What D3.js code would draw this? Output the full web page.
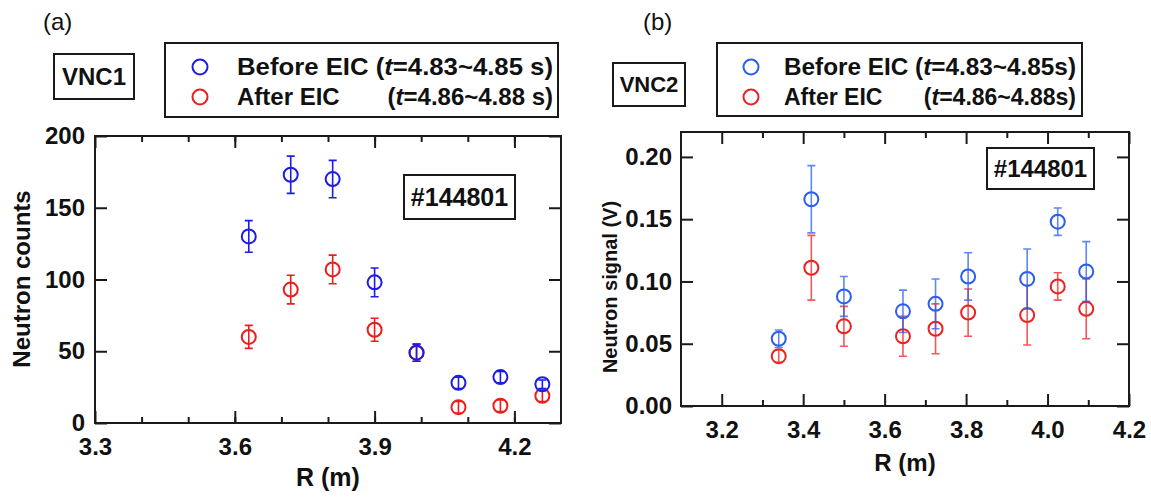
<!DOCTYPE html>
<html>
<head>
<meta charset="utf-8">
<script src="https://cdn.jsdelivr.net/npm/d3@7"></script>
<style>
  body { margin: 0; background: #fff; }
  text { font-family: "Liberation Sans", Arial, sans-serif; fill: #111; }
</style>
</head>
<body>
<div id="vis"></div>
<script>
// (a) VNC1 data
var rA = [3.63, 3.72, 3.81, 3.90, 3.99, 4.08, 4.17, 4.26];
var beforeA = [130, 173, 170, 98, 49, 28, 32, 27];
var beforeErrA = [11, 13, 13, 10, 6, 4, 4, 3];
var afterA = [60, 93, 107, 65, 49, 11, 12, 19];
var afterErrA = [8, 10, 10, 8, 6, 4, 4, 4];
var xTicksA = [3.3, 3.6, 3.9, 4.2];
var yTicksA = [0, 50, 100, 150, 200];

// (b) VNC2 data
var rB = [3.34, 3.42, 3.50, 3.645, 3.725, 3.805, 3.95, 4.025, 4.095];
var beforeB = [0.054, 0.166, 0.088, 0.076, 0.082, 0.104, 0.102, 0.148, 0.108];
var beforeErrB = [0.007, 0.027, 0.016, 0.017, 0.020, 0.019, 0.024, 0.011, 0.024];
var afterB = [0.040, 0.111, 0.064, 0.056, 0.062, 0.075, 0.073, 0.096, 0.078];
var afterErrB = [0.005, 0.026, 0.016, 0.016, 0.020, 0.019, 0.024, 0.011, 0.024];
var xTicksB = [3.2, 3.4, 3.6, 3.8, 4.0, 4.2];
var yTicksB = [0, 0.05, 0.10, 0.15, 0.20];

function rows(r, v, e) {
  return r.map(function(d, i) { return {r: d, v: v[i], e: e[i]}; });
}

function series(svg, data, xScale, yScale, color, barOpacity)
{
  var g = svg.append("g");
  g.selectAll(".bar")
    .data(data)
    .enter()
    .append("path")
      .attr("d", function(d) {
        var x = xScale(d.r), y0 = yScale(d.v - d.e), y1 = yScale(d.v + d.e);
        return "M" + x + "," + y0 + "V" + y1 +
               "M" + (x - 4) + "," + y0 + "H" + (x + 4) +
               "M" + (x - 4) + "," + y1 + "H" + (x + 4);
      })
      .style("fill", "none")
      .style("stroke", color)
      .style("stroke-opacity", barOpacity)
      .style("stroke-width", "1.6");

  g.selectAll("circle")
    .data(data)
    .enter()
    .append("circle")
      .attr("cx", function(d) { return xScale(d.r); })
      .attr("cy", function(d) { return yScale(d.v); })
      .attr("r", 7)
      .style("fill", "none")
      .style("stroke", color)
      .style("stroke-width", "2");
}

function frame(svg, xScale, yScale, o)
{
  var x0 = xScale.range()[0], x1 = xScale.range()[1];
  var y0 = yScale.range()[0], y1 = yScale.range()[1];

  // minor ticks first
  svg.append("g")
    .attr("transform", "translate(0," + y0 + ")")
    .call(d3.axisBottom(xScale).tickValues(o.xMinor).tickSize(-6).tickFormat(""));
  svg.append("g")
    .attr("transform", "translate(0," + y1 + ")")
    .call(d3.axisTop(xScale).tickValues(o.xMinor).tickSize(-6).tickFormat(""));

  // major ticks
  svg.append("g")
    .attr("class", "xlab")
    .attr("transform", "translate(0," + y0 + ")")
    .call(d3.axisBottom(xScale).tickValues(o.xTicks).tickSize(-12).tickPadding(o.xPad).tickFormat(d3.format(".1f")));
  svg.append("g")
    .attr("transform", "translate(0," + y1 + ")")
    .call(d3.axisTop(xScale).tickValues(o.xTicks).tickSize(-12).tickFormat(""));
  svg.append("g")
    .attr("class", "ylab")
    .attr("transform", "translate(" + x0 + ",0)")
    .call(d3.axisLeft(yScale).tickValues(o.yTicks).tickSize(-12).tickPadding(o.yPad).tickFormat(o.yFormat));
  svg.append("g")
    .attr("transform", "translate(" + x1 + ",0)")
    .call(d3.axisRight(yScale).tickValues(o.yTicks).tickSize(-12).tickFormat(""));

  svg.selectAll(".domain").remove();
  svg.selectAll(".tick line").style("stroke", "#1a1a1a").style("stroke-width", "2");
  svg.selectAll(".xlab text, .ylab text")
    .style("font-size", o.tickFont)
    .style("font-weight", "bold")
    .style("fill", "#111");

  svg.append("rect")
    .attr("x", x0)
    .attr("y", y1)
    .attr("width", x1 - x0)
    .attr("height", y0 - y1)
    .style("fill", "none")
    .style("stroke", "#1a1a1a")
    .style("stroke-width", "2");
}

function boxLabel(svg, x, y, w, h, label, size)
{
  svg.append("rect")
    .attr("x", x).attr("y", y)
    .attr("width", w).attr("height", h)
    .style("fill", "white")
    .style("stroke", "#1a1a1a")
    .style("stroke-width", "2");
  svg.append("text")
    .attr("x", x + w / 2)
    .attr("y", y + h / 2)
    .attr("dy", ".36em")
    .style("text-anchor", "middle")
    .style("font-weight", "bold")
    .style("font-size", size)
    .text(label);
}

function legend(svg, o)
{
  svg.append("rect")
    .attr("x", o.x).attr("y", o.y)
    .attr("width", o.w).attr("height", o.h)
    .style("fill", "white")
    .style("stroke", "#1a1a1a")
    .style("stroke-width", "2");

  var full = o.tend - o.tx;   // width of the first row, start to end
  var items = [
    {c: o.blue, name: "Before EIC", t: o.t1, cy: o.y + 24},
    {c: o.red, name: "After EIC", t: o.t2, cy: o.y + 54}
  ];

  // first row as one string stretched to the box
  var r1 = svg.append("text")
    .attr("x", o.tx).attr("y", items[0].cy + 8)
    .attr("textLength", full).attr("lengthAdjust", "spacingAndGlyphs")
    .style("font-weight", "bold").style("font-size", o.font);
  r1.append("tspan").text(items[0].name + " (");
  r1.append("tspan").style("font-style", "italic").text("t");
  r1.append("tspan").text(items[0].t);

  // second row: name at left, time range flush with the first row's end
  var sx = full / r1.node().getComputedTextLength();
  var name2 = svg.append("text")
    .attr("x", o.tx).attr("y", items[1].cy + 8)
    .style("font-weight", "bold").style("font-size", o.font)
    .text(items[1].name);
  name2.attr("textLength", name2.node().getComputedTextLength() * sx)
    .attr("lengthAdjust", "spacingAndGlyphs");
  var r2 = svg.append("text")
    .attr("x", o.tend).attr("y", items[1].cy + 8)
    .style("text-anchor", "end")
    .style("font-weight", "bold").style("font-size", o.font);
  r2.append("tspan").text("(");
  r2.append("tspan").style("font-style", "italic").text("t");
  r2.append("tspan").text(items[1].t);
  r2.attr("textLength", r2.node().getComputedTextLength() * sx)
    .attr("lengthAdjust", "spacingAndGlyphs");

  items.forEach(function(it) {
    svg.append("circle")
      .attr("cx", o.cx).attr("cy", it.cy).attr("r", 7.5)
      .style("fill", "none").style("stroke", it.c).style("stroke-width", "2");
  });
}

function init()
{
  var svg = d3.select("#vis")
    .append("svg")
    .attr("width", 1151)
    .attr("height", 502);

  // ----- panel (a)
  var xA = d3.scaleLinear().domain([3.3, 4.3]).range([95, 561]);
  var yA = d3.scaleLinear().domain([0, 200]).range([423, 136]);

  frame(svg, xA, yA, {
    xTicks: xTicksA, xMinor: d3.range(3.4, 4.25, 0.1),
    yTicks: yTicksA, yFormat: d3.format("d"),
    xPad: 15, yPad: 10, tickFont: "25px"
  });
  boxLabel(svg, 404, 175, 111, 44, "#144801", "25px");
  series(svg, rows(rA, afterA, afterErrA), xA, yA, "#ee1c1c", 1);
  series(svg, rows(rA, beforeA, beforeErrA), xA, yA, "#1c1ce6", 1);

  svg.append("text")
    .attr("transform", "translate(30,279) rotate(-90)")
    .style("text-anchor", "middle").style("font-weight", "bold").style("font-size", "24px")
    .text("Neutron counts");
  svg.append("text")
    .attr("x", 328).attr("y", 486)
    .style("text-anchor", "middle").style("font-weight", "bold").style("font-size", "25px")
    .text("R (m)");
  svg.append("text")
    .attr("x", 43).attr("y", 30)
    .style("font-size", "24px")
    .text("(a)");
  boxLabel(svg, 54, 54, 80, 45, "VNC1", "24px");
  legend(svg, {
    x: 165, y: 43, w: 393, h: 74, cx: 200, tx: 237, tend: 553, font: "24px",
    blue: "#1c1ce6", red: "#ee1c1c", t1: "=4.83~4.85 s)", t2: "=4.86~4.88 s)"
  });

  // ----- panel (b)
  var xB = d3.scaleLinear().domain([3.1, 4.2]).range([681, 1129]);
  var yB = d3.scaleLinear().domain([0, 0.22]).range([406, 132]);

  frame(svg, xB, yB, {
    xTicks: xTicksB, xMinor: d3.range(3.3, 4.15, 0.2),
    yTicks: yTicksB, yFormat: d3.format(".2f"),
    xPad: 15, yPad: 9, tickFont: "24px"
  });
  boxLabel(svg, 987, 148, 107, 41, "#144801", "24px");
  series(svg, rows(rB, afterB, afterErrB), xB, yB, "#ee2020", 0.75);
  series(svg, rows(rB, beforeB, beforeErrB), xB, yB, "#2a5ef0", 0.75);

  svg.append("text")
    .attr("transform", "translate(617,287) rotate(-90)")
    .style("text-anchor", "middle").style("font-weight", "bold").style("font-size", "20px")
    .text("Neutron signal (V)");
  svg.append("text")
    .attr("x", 905).attr("y", 471)
    .style("text-anchor", "middle").style("font-weight", "bold").style("font-size", "24px")
    .text("R (m)");
  svg.append("text")
    .attr("x", 643).attr("y", 30)
    .style("font-size", "24px")
    .text("(b)");
  boxLabel(svg, 613, 63, 72, 43, "VNC2", "22px");
  legend(svg, {
    x: 717, y: 43, w: 365, h: 73, cx: 751, tx: 784, tend: 1076, font: "23px",
    blue: "#2a5ef0", red: "#ee2020", t1: "=4.83~4.85s)", t2: "=4.86~4.88s)"
  });
}

window.onload = init;
</script>
</body>
</html>
